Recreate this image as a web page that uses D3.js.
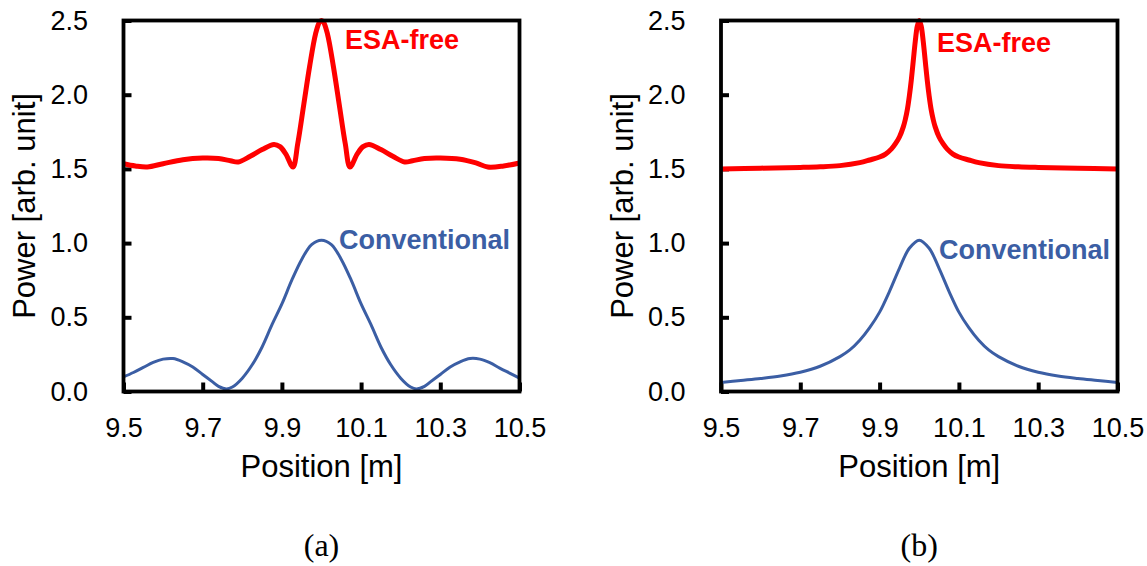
<!DOCTYPE html>
<html>
<head>
<meta charset="utf-8">
<script src="https://cdn.jsdelivr.net/npm/d3@7/dist/d3.min.js"></script>
<style>
  html, body { margin: 0; padding: 0; background: #fff; }
  svg { display: block; }
</style>
</head>
<body>
<svg id="chart" width="1147" height="566"></svg>
<script>
// ---------------- data ----------------
const xTicks = [9.5, 9.7, 9.9, 10.1, 10.3, 10.5];
const yTicks = [0.0, 0.5, 1.0, 1.5, 2.0, 2.5];
const panelLabels = ["(a)", "(b)"];
const seriesNames = ["ESA-free", "Conventional"];

// Panel (a) ESA-free
const posA_esa = [9.50, 9.53, 9.56, 9.60, 9.65, 9.70, 9.74, 9.77, 9.79, 9.82, 9.85, 9.88, 9.895, 9.91, 9.928,
  9.94, 9.955, 9.97, 9.985, 9.995, 10.0, 10.005, 10.015, 10.03, 10.045, 10.06, 10.072,
  10.09, 10.105, 10.12, 10.15, 10.18, 10.21, 10.23, 10.26, 10.30, 10.35, 10.39, 10.42, 10.46, 10.50];
const powA_esa = [1.535, 1.52, 1.513, 1.535, 1.562, 1.573, 1.57, 1.555, 1.547, 1.585, 1.63, 1.665, 1.65, 1.60, 1.513,
  1.67, 1.93, 2.19, 2.41, 2.49, 2.50, 2.49, 2.41, 2.19, 1.93, 1.67, 1.513,
  1.60, 1.65, 1.665, 1.63, 1.585, 1.547, 1.555, 1.57, 1.573, 1.565, 1.54, 1.513, 1.52, 1.54];

// Panel (a) Conventional
const posA_conv = [9.5, 9.525, 9.55, 9.575, 9.6, 9.625, 9.65, 9.675, 9.7, 9.725, 9.74, 9.76, 9.775, 9.8, 9.825,
  9.85, 9.875, 9.9, 9.925, 9.95, 9.975, 10.0, 10.025, 10.05, 10.075, 10.1, 10.125, 10.15, 10.175, 10.2,
  10.225, 10.24, 10.26, 10.275, 10.3, 10.325, 10.35, 10.375, 10.4, 10.425, 10.45, 10.475, 10.5];
const powA_conv = [0.098, 0.128, 0.162, 0.196, 0.218, 0.222, 0.20, 0.165, 0.115, 0.065, 0.035, 0.017, 0.03, 0.09, 0.18,
  0.30, 0.45, 0.59, 0.75, 0.89, 0.99, 1.02, 0.99, 0.89, 0.75, 0.59, 0.45, 0.30, 0.18, 0.09,
  0.03, 0.017, 0.035, 0.065, 0.115, 0.165, 0.20, 0.222, 0.218, 0.194, 0.158, 0.124, 0.09];

// Panel (b) ESA-free
const posB_esa = [9.5, 9.6, 9.7, 9.75, 9.8, 9.85, 9.875, 9.9, 9.915, 9.93, 9.94, 9.95, 9.96, 9.965, 9.97, 9.975,
  9.98, 9.985, 9.99, 9.995, 10.0, 10.005, 10.01, 10.015, 10.02, 10.025, 10.03, 10.035, 10.04, 10.05, 10.06,
  10.07, 10.085, 10.1, 10.125, 10.15, 10.2, 10.25, 10.3, 10.4, 10.5];
const powB_esa = [1.50, 1.505, 1.51, 1.514, 1.522, 1.542, 1.56, 1.58, 1.60, 1.635, 1.67, 1.715, 1.785, 1.835, 1.90, 1.99,
  2.10, 2.23, 2.36, 2.46, 2.50, 2.46, 2.36, 2.23, 2.10, 1.99, 1.90, 1.835, 1.785, 1.715, 1.67,
  1.635, 1.60, 1.58, 1.56, 1.542, 1.522, 1.514, 1.51, 1.505, 1.50];

// Panel (b) Conventional
const posB_conv = [9.5, 9.55, 9.6, 9.65, 9.7, 9.75, 9.8, 9.825, 9.85, 9.875, 9.9, 9.925, 9.95, 9.975, 10.0,
  10.025, 10.05, 10.075, 10.1, 10.125, 10.15, 10.175, 10.2, 10.25, 10.3, 10.35, 10.4, 10.45, 10.5];
const powB_conv = [0.06, 0.074, 0.088, 0.105, 0.13, 0.17, 0.235, 0.28, 0.345, 0.43, 0.535, 0.675, 0.83, 0.965, 1.02,
  0.965, 0.83, 0.675, 0.535, 0.43, 0.345, 0.28, 0.235, 0.17, 0.13, 0.105, 0.088, 0.074, 0.06];

// ---------------- drawing ----------------
const RED = "#ff0000";
const BLUE = "#3b5ea4";
const SANS = "'Liberation Sans', Arial, Helvetica, sans-serif";
const SERIF = "'Liberation Serif', 'Times New Roman', serif";

const svg = d3.select("#chart");
svg.append("rect").attr("width", 1147).attr("height", 566).attr("fill", "#fff");

const panels = [
  { x0: 123.5, x1: 519.5, label: panelLabels[0],
    esa: { xs: posA_esa, ys: powA_esa }, conv: { xs: posA_conv, ys: powA_conv },
    esaText: [345, 49], convText: [339, 249] },
  { x0: 721, x1: 1117.5, label: panelLabels[1],
    esa: { xs: posB_esa, ys: powB_esa }, conv: { xs: posB_conv, ys: powB_conv },
    esaText: [937, 51.5], convText: [939, 259] }
];

const yTop = 20.5, yBot = 391.5;

panels.forEach(p => {
  const g = svg.append("g");
  const x = d3.scaleLinear().domain([9.5, 10.5]).range([p.x0, p.x1]);
  const y = d3.scaleLinear().domain([0, 2.5]).range([yBot, yTop]);

  // axes (ticks inward)
  const yAxis = g.append("g").attr("transform", `translate(${p.x0},0)`)
    .call(d3.axisLeft(y).tickValues(yTicks).tickFormat(d3.format(".1f"))
      .tickSizeInner(-8).tickSizeOuter(0).tickPadding(35.5));
  const xAxis = g.append("g").attr("transform", `translate(0,${yBot})`)
    .call(d3.axisBottom(x).tickValues(xTicks).tickFormat(d => d3.format(".1f")(d))
      .tickSizeInner(-9).tickSizeOuter(0).tickPadding(26.3));
  [yAxis, xAxis].forEach(a => {
    a.select(".domain").remove();
    a.selectAll(".tick line").attr("stroke", "#000").attr("stroke-width", 4);
    a.selectAll(".tick text").attr("fill", "#000")
      .style("font-family", SANS).style("font-size", "27px");
  });

  const line = d3.line().x(d => x(d[0])).y(d => y(d[1])).curve(d3.curveCatmullRom.alpha(0.5));

  // Conventional
  g.append("path").datum(d3.zip(p.conv.xs, p.conv.ys))
    .attr("d", line).attr("fill", "none").attr("stroke", BLUE).attr("stroke-width", 3);
  // ESA-free
  g.append("path").datum(d3.zip(p.esa.xs, p.esa.ys))
    .attr("d", line).attr("fill", "none").attr("stroke", RED).attr("stroke-width", 5)
    .attr("stroke-linejoin", "round");

  // frame
  g.append("rect").attr("x", p.x0).attr("y", yTop)
    .attr("width", p.x1 - p.x0).attr("height", yBot - yTop)
    .attr("fill", "none").attr("stroke", "#000").attr("stroke-width", 3.8);

  // series labels
  g.append("text").attr("x", p.esaText[0]).attr("y", p.esaText[1]).text(seriesNames[0])
    .attr("fill", RED).style("font-family", SANS).style("font-size", "27px").style("font-weight", "bold");
  g.append("text").attr("x", p.convText[0]).attr("y", p.convText[1]).text(seriesNames[1])
    .attr("fill", BLUE).style("font-family", SANS).style("font-size", "27px").style("font-weight", "bold");

  // axis titles
  const cx = (p.x0 + p.x1) / 2;
  g.append("text").attr("x", cx).attr("y", 476.5).attr("text-anchor", "middle")
    .text("Position [m]").style("font-family", SANS).style("font-size", "31px");
  const cy = (yTop + yBot) / 2;
  g.append("text").attr("transform", `translate(${p.x0 - 88.5},${cy}) rotate(-90)`)
    .attr("text-anchor", "middle").text("Power [arb. unit]")
    .style("font-family", SANS).style("font-size", "31px");

  // panel label
  g.append("text").attr("x", cx).attr("y", 556).attr("text-anchor", "middle")
    .text(p.label).style("font-family", SERIF).style("font-size", "32px");
});
</script>
</body>
</html>
